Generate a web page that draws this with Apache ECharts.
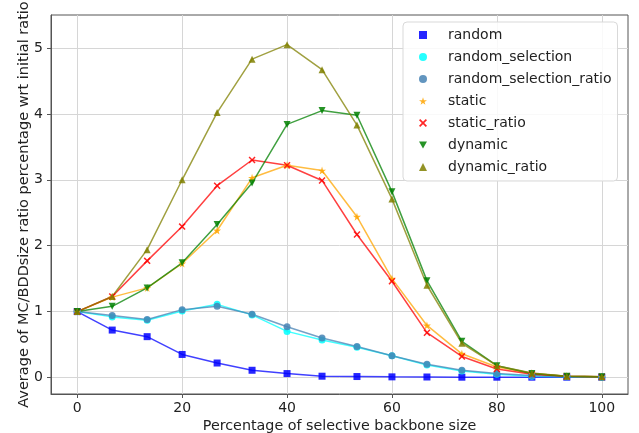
<!DOCTYPE html>
<html>
<head>
<meta charset="utf-8">
<script src="https://cdn.jsdelivr.net/npm/echarts@6/dist/echarts.min.js"></script>
<style>
    html, body { margin:0; padding:0; background:#fff; }
    #chart { width:639px; height:433px; }
</style>
</head>
<body>
<div id="chart"></div>
<script>
    // x positions: percentage of selective backbone size
    var xValues = [0, 6.67, 13.33, 20, 26.67, 33.33, 40, 46.67, 53.33, 60, 66.67, 73.33, 80, 86.67, 93.33, 100];
    var xTicks = [0, 20, 40, 60, 80, 100];
    var yTicks = [0, 1, 2, 3, 4, 5];

    var random = [1, 0.72, 0.62, 0.35, 0.22, 0.11, 0.06, 0.02, 0.015, 0.01, 0.008, 0.005, 0.005, 0.005, 0.005, 0.005];
    var randomSelection = [1, 0.92, 0.87, 1.01, 1.11, 0.95, 0.70, 0.57, 0.46, 0.33, 0.19, 0.10, 0.05, 0.02, 0.01, 0.005];
    var randomSelectionRatio = [1, 0.94, 0.88, 1.03, 1.08, 0.96, 0.77, 0.60, 0.47, 0.33, 0.20, 0.11, 0.06, 0.03, 0.01, 0.005];
    var staticVals = [1, 1.22, 1.36, 1.73, 2.23, 3.03, 3.22, 3.14, 2.44, 1.50, 0.79, 0.36, 0.16, 0.06, 0.02, 0.01];
    var staticRatio = [1, 1.23, 1.77, 2.29, 2.91, 3.30, 3.22, 2.99, 2.17, 1.46, 0.68, 0.32, 0.13, 0.05, 0.02, 0.01];
    var dynamic = [1, 1.08, 1.36, 1.74, 2.32, 2.95, 3.84, 4.05, 3.98, 2.82, 1.47, 0.55, 0.18, 0.06, 0.02, 0.01];
    var dynamicRatio = [1, 1.23, 1.94, 3.00, 4.02, 4.83, 5.05, 4.67, 3.83, 2.71, 1.40, 0.52, 0.18, 0.07, 0.02, 0.01];

    var STAR = 'path://M50,0 L61,35 L98,35 L68,57 L79,91 L50,70 L21,91 L32,57 L2,35 L39,35 Z';
    var CROSS = 'path://M0,15 L15,0 L50,35 L85,0 L100,15 L65,50 L100,85 L85,100 L50,65 L15,100 L0,85 L35,50 Z';
    var TRI_DOWN = 'path://M0,0 L100,0 L50,87 Z';

    var FONT = 'DejaVu Sans';

    function pairs(vals){
        return vals.map(function(v, i){ return [xValues[i], v]; });
    }

    function makeSeries(name, vals, color, symbol, size){
        return {
            name: name,
            type: 'line',
            data: pairs(vals),
            symbol: symbol,
            symbolSize: size,
            clip: false,
            itemStyle: { color: color, opacity: 0.85 },
            lineStyle: { color: color, width: 1.5, opacity: 0.75 },
            emphasis: { disabled: true },
            animation: false
        };
    }

    var chart = echarts.init(document.getElementById('chart'));
    var option = {
        backgroundColor: '#fff',
        animation: false,
        grid: {
            left: 51,
            right: 11,
            top: 15,
            bottom: 39,
            containLabel: false,
            outerBoundsMode: 'none',
            show: true,
            borderColor: '#555',
            borderWidth: 1,
            backgroundColor: '#fff'
        },
        legend: {
            orient: 'vertical',
            left: 403,
            top: 22,
            padding: [5, 6, 6, 16],
            itemWidth: 8,
            itemHeight: 8,
            itemGap: 6,
            backgroundColor: 'rgba(255,255,255,0.85)',
            borderColor: '#d9d9d9',
            borderWidth: 1,
            borderRadius: 4,
            textStyle: {
                fontFamily: FONT,
                fontSize: 14,
                color: '#222',
                lineHeight: 16,
                padding: [0, 0, 0, 16]
            },
            data: [
                { name: 'random', icon: 'rect' },
                { name: 'random_selection', icon: 'circle' },
                { name: 'random_selection_ratio', icon: 'circle' },
                { name: 'static', icon: STAR },
                { name: 'static_ratio', icon: CROSS },
                { name: 'dynamic', icon: TRI_DOWN },
                { name: 'dynamic_ratio', icon: 'triangle' }
            ]
        },
        xAxis: {
            type: 'value',
            min: -5,
            max: 105,
            name: 'Percentage of selective backbone size',
            nameLocation: 'middle',
            nameGap: 25,
            nameMoveOverlap: false,
            nameTextStyle: { fontFamily: FONT, fontSize: 14.3, color: '#222' },
            axisLine: { show: true, onZero: false, lineStyle: { color: '#555' } },
            axisTick: { show: true, length: 4, customValues: xTicks, lineStyle: { color: '#555' } },
            axisLabel: { customValues: xTicks, margin: 7, fontFamily: FONT, fontSize: 14, color: '#222' },
            splitLine: { show: true, lineStyle: { color: '#d6d6d6', width: 1 } }
        },
        yAxis: {
            type: 'value',
            min: -0.25,
            max: 5.5,
            name: 'Average of MC/BDDsize ratio percentage wrt initial ratio',
            nameLocation: 'middle',
            nameGap: 19,
            nameMoveOverlap: false,
            nameTextStyle: { fontFamily: FONT, fontSize: 14.5, color: '#222' },
            axisLine: { show: true, onZero: false, lineStyle: { color: '#555' } },
            axisTick: { show: true, length: 4, customValues: yTicks, lineStyle: { color: '#555' } },
            axisLabel: { customValues: yTicks, margin: 8, fontFamily: FONT, fontSize: 14, color: '#222' },
            splitLine: { show: true, lineStyle: { color: '#d6d6d6', width: 1 } }
        },
        series: [
            makeSeries('random', random, '#0000ff', 'rect', 7),
            makeSeries('random_selection', randomSelection, '#00ffff', 'circle', 7),
            makeSeries('random_selection_ratio', randomSelectionRatio, '#4682b4', 'circle', 7),
            makeSeries('static', staticVals, '#ffa500', STAR, 8),
            makeSeries('static_ratio', staticRatio, '#ff0000', CROSS, 7),
            makeSeries('dynamic', dynamic, '#008000', TRI_DOWN, 7),
            makeSeries('dynamic_ratio', dynamicRatio, '#808000', 'triangle', 7)
        ]
    };
    chart.setOption(option);
    window.addEventListener('resize', chart.resize);
</script>
</body>
</html>
